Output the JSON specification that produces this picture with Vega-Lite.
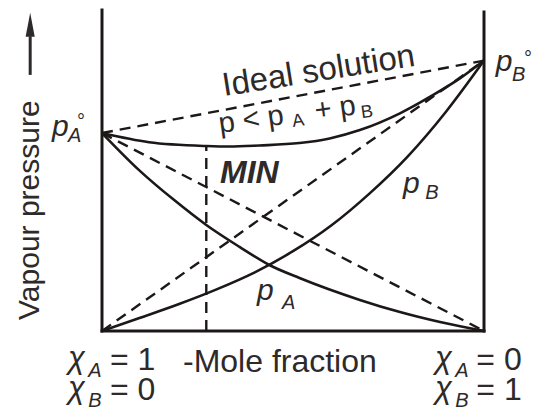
{
  "$schema": "https://vega.github.io/schema/vega-lite/v6.json",
  "width": 382,
  "height": 321,
  "padding": {"left": 102, "right": 61, "top": 10, "bottom": 84},
  "autosize": {"type": "none"},
  "background": "white",
  "config": {"view": {"stroke": null}, "text": {"font": "Liberation Sans", "color": "#2e2a2a"}},
  "datasets": {
    "frame": [
      {"id": "left", "xB": 0, "p": 0}, {"id": "left", "xB": 0, "p": 1.187},
      {"id": "right", "xB": 1, "p": 0}, {"id": "right", "xB": 1, "p": 1.18},
      {"id": "bottom", "xB": 0, "p": 0}, {"id": "bottom", "xB": 1, "p": 0}
    ],
    "ideal": [
      {"series": "ideal total", "xB": 0, "p": 0.732}, {"series": "ideal total", "xB": 1, "p": 1.0},
      {"series": "ideal pA", "xB": 0, "p": 0.732}, {"series": "ideal pA", "xB": 1, "p": 0},
      {"series": "ideal pB", "xB": 0, "p": 0}, {"series": "ideal pB", "xB": 1, "p": 1.0},
      {"series": "min", "xB": 0.273, "p": 0}, {"series": "min", "xB": 0.273, "p": 0.684}
    ],
    "curves": [
      {"series": "pA", "xB": 0, "p": 0.732}, {"series": "pA", "xB": 0.097, "p": 0.595},
      {"series": "pA", "xB": 0.189, "p": 0.484}, {"series": "pA", "xB": 0.273, "p": 0.392},
      {"series": "pA", "xB": 0.36, "p": 0.311}, {"series": "pA", "xB": 0.438, "p": 0.244},
      {"series": "pA", "xB": 0.517, "p": 0.196}, {"series": "pA", "xB": 0.675, "p": 0.115},
      {"series": "pA", "xB": 0.78, "p": 0.07}, {"series": "pA", "xB": 0.885, "p": 0.033},
      {"series": "pA", "xB": 1, "p": 0},
      {"series": "pB", "xB": 0, "p": 0}, {"series": "pB", "xB": 0.1, "p": 0.049},
      {"series": "pB", "xB": 0.2, "p": 0.099}, {"series": "pB", "xB": 0.3, "p": 0.154},
      {"series": "pB", "xB": 0.4, "p": 0.217}, {"series": "pB", "xB": 0.5, "p": 0.295},
      {"series": "pB", "xB": 0.6, "p": 0.39}, {"series": "pB", "xB": 0.7, "p": 0.508},
      {"series": "pB", "xB": 0.8, "p": 0.645}, {"series": "pB", "xB": 0.9, "p": 0.81},
      {"series": "pB", "xB": 1, "p": 1.0},
      {"series": "p", "xB": 0, "p": 0.732}, {"series": "p", "xB": 0.123, "p": 0.698},
      {"series": "p", "xB": 0.273, "p": 0.684}, {"series": "p", "xB": 0.333, "p": 0.682},
      {"series": "p", "xB": 0.412, "p": 0.686}, {"series": "p", "xB": 0.517, "p": 0.695},
      {"series": "p", "xB": 0.596, "p": 0.712}, {"series": "p", "xB": 0.675, "p": 0.743},
      {"series": "p", "xB": 0.78, "p": 0.805}, {"series": "p", "xB": 0.866, "p": 0.872},
      {"series": "p", "xB": 0.937, "p": 0.934}, {"series": "p", "xB": 1, "p": 1.0}
    ],
    "plain": [
      {"t": "-Mole fraction", "x": 0.212, "y": -0.152},
      {"t": "= 1", "x": 0.021, "y": -0.144},
      {"t": "= 0", "x": 0.021, "y": -0.255},
      {"t": "= 0", "x": 0.98, "y": -0.144},
      {"t": "= 1", "x": 0.98, "y": -0.255}
    ],
    "chi": [
      {"t": "χ", "x": -0.089, "y": -0.137},
      {"t": "χ", "x": -0.089, "y": -0.248},
      {"t": "χ", "x": 0.872, "y": -0.137},
      {"t": "χ", "x": 0.872, "y": -0.248}
    ],
    "subs": [
      {"t": "A", "x": -0.036, "y": -0.17},
      {"t": "B", "x": -0.036, "y": -0.281},
      {"t": "A", "x": 0.925, "y": -0.17},
      {"t": "B", "x": 0.925, "y": -0.281},
      {"t": "A", "x": -0.089, "y": 0.699},
      {"t": "B", "x": 1.073, "y": 0.925},
      {"t": "B", "x": 0.846, "y": 0.488},
      {"t": "A", "x": 0.471, "y": 0.081}
    ],
    "pees": [
      {"t": "p", "x": -0.131, "y": 0.721},
      {"t": "p", "x": 1.031, "y": 0.962},
      {"t": "p", "x": 0.788, "y": 0.51},
      {"t": "p", "x": 0.406, "y": 0.115}
    ],
    "degrees": [
      {"t": "°", "x": -0.055, "y": 0.75},
      {"t": "°", "x": 1.115, "y": 0.985}
    ],
    "minlabel": [{"t": "MIN", "x": 0.309, "y": 0.547}],
    "ideallabel": [{"t": "Ideal solution", "x": 0.571, "y": 0.925}],
    "formula": [
      {"t": "p < p", "x": 0.309, "y": 0.732},
      {"t": "+ p", "x": 0.56, "y": 0.78}
    ],
    "formulasubs": [
      {"t": "A", "x": 0.5, "y": 0.754},
      {"t": "B", "x": 0.68, "y": 0.787}
    ],
    "ytitle": [{"t": "Vapour pressure", "x": -0.165, "y": 0.041}],
    "arrowstem": [
      {"xB": -0.188, "p": 0.947}, {"xB": -0.188, "p": 1.09}
    ],
    "arrowhead": [{"xB": -0.188, "p": 1.132}]
  },
  "encoding": {
    "x": {"field": "xB", "type": "quantitative", "scale": {"domain": [0, 1], "nice": false, "zero": false}, "axis": null},
    "y": {"field": "p", "type": "quantitative", "scale": {"domain": [0, 1.187], "nice": false, "zero": false}, "axis": null}
  },
  "layer": [
    {
      "data": {"name": "frame"},
      "mark": {"type": "line", "color": "#1c1818", "strokeWidth": 3, "strokeCap": "square"},
      "encoding": {"detail": {"field": "id"}}
    },
    {
      "data": {"name": "ideal"},
      "mark": {"type": "line", "color": "#1c1818", "strokeWidth": 2.4, "strokeDash": [11, 7]},
      "encoding": {"detail": {"field": "series"}}
    },
    {
      "data": {"name": "curves"},
      "mark": {"type": "line", "color": "#1c1818", "strokeWidth": 2.6, "interpolate": "monotone"},
      "encoding": {"detail": {"field": "series"}}
    },
    {
      "data": {"name": "arrowstem"},
      "mark": {"type": "line", "color": "#2e2a2a", "strokeWidth": 3},
      "encoding": {}
    },
    {
      "data": {"name": "arrowhead"},
      "mark": {"type": "point", "shape": "M0,-1L0.38,1L-0.38,1Z", "size": 576, "filled": true, "color": "#2e2a2a", "opacity": 1}
    },
    {
      "data": {"name": "plain"},
      "mark": {"type": "text", "align": "left", "baseline": "alphabetic", "fontSize": 32},
      "encoding": {"x": {"field": "x", "type": "quantitative"}, "y": {"field": "y", "type": "quantitative"}, "text": {"field": "t"}}
    },
    {
      "data": {"name": "chi"},
      "mark": {"type": "text", "align": "left", "baseline": "alphabetic", "fontSize": 31, "fontStyle": "italic"},
      "encoding": {"x": {"field": "x", "type": "quantitative"}, "y": {"field": "y", "type": "quantitative"}, "text": {"field": "t"}}
    },
    {
      "data": {"name": "subs"},
      "mark": {"type": "text", "align": "left", "baseline": "alphabetic", "fontSize": 20, "fontStyle": "italic"},
      "encoding": {"x": {"field": "x", "type": "quantitative"}, "y": {"field": "y", "type": "quantitative"}, "text": {"field": "t"}}
    },
    {
      "data": {"name": "pees"},
      "mark": {"type": "text", "align": "left", "baseline": "alphabetic", "fontSize": 30, "fontStyle": "italic"},
      "encoding": {"x": {"field": "x", "type": "quantitative"}, "y": {"field": "y", "type": "quantitative"}, "text": {"field": "t"}}
    },
    {
      "data": {"name": "degrees"},
      "mark": {"type": "text", "align": "center", "baseline": "alphabetic", "fontSize": 20},
      "encoding": {"x": {"field": "x", "type": "quantitative"}, "y": {"field": "y", "type": "quantitative"}, "text": {"field": "t"}}
    },
    {
      "data": {"name": "minlabel"},
      "mark": {"type": "text", "align": "left", "baseline": "alphabetic", "fontSize": 32, "fontStyle": "italic", "fontWeight": "bold"},
      "encoding": {"x": {"field": "x", "type": "quantitative"}, "y": {"field": "y", "type": "quantitative"}, "text": {"field": "t"}}
    },
    {
      "data": {"name": "ideallabel"},
      "mark": {"type": "text", "align": "center", "baseline": "alphabetic", "fontSize": 33, "angle": 351},
      "encoding": {"x": {"field": "x", "type": "quantitative"}, "y": {"field": "y", "type": "quantitative"}, "text": {"field": "t"}}
    },
    {
      "data": {"name": "formula"},
      "mark": {"type": "text", "align": "left", "baseline": "alphabetic", "fontSize": 29, "angle": 352},
      "encoding": {"x": {"field": "x", "type": "quantitative"}, "y": {"field": "y", "type": "quantitative"}, "text": {"field": "t"}}
    },
    {
      "data": {"name": "formulasubs"},
      "mark": {"type": "text", "align": "left", "baseline": "alphabetic", "fontSize": 18, "angle": 352},
      "encoding": {"x": {"field": "x", "type": "quantitative"}, "y": {"field": "y", "type": "quantitative"}, "text": {"field": "t"}}
    },
    {
      "data": {"name": "ytitle"},
      "mark": {"type": "text", "align": "left", "baseline": "alphabetic", "fontSize": 30, "angle": 270},
      "encoding": {"x": {"field": "x", "type": "quantitative"}, "y": {"field": "y", "type": "quantitative"}, "text": {"field": "t"}}
    }
  ]
}
